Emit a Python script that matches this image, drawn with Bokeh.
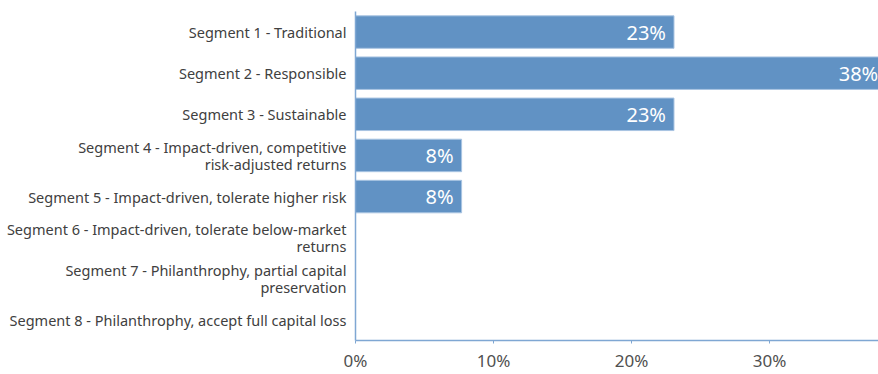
from bokeh.plotting import figure
from bokeh.models import Range1d, FactorRange, ColumnDataSource, FixedTicker
from bokeh.core.properties import value
from bokeh.embed import file_html
from bokeh.resources import INLINE

segments = [
    "Segment 1 - Traditional",
    "Segment 2 - Responsible",
    "Segment 3 - Sustainable",
    "Segment 4 - Impact-driven, competitive\nrisk-adjusted returns",
    "Segment 5 - Impact-driven, tolerate higher risk",
    "Segment 6 - Impact-driven, tolerate below-market\nreturns",
    "Segment 7 - Philanthrophy, partial capital\npreservation",
    "Segment 8 - Philanthrophy, accept full capital loss",
]
shares = [23.08, 38.46, 23.08, 7.69, 7.69, 0, 0, 0]
x_ticks = [0, 10, 20, 30]
x_tick_labels = ["0%", "10%", "20%", "30%"]

bar_color = "#6192c4"
axis_color = "#7fa7d3"
font = "Noto Sans"

src = ColumnDataSource(dict(
    seg=segments,
    v=shares,
    lab=[f"{round(s)}%" if s > 0 else "" for s in shares],
))

p = figure(
    width=878, height=374,
    y_range=FactorRange(*reversed(segments), range_padding=0),
    x_range=Range1d(0, 37.9),
    output_backend="svg", toolbar_location=None,
    min_border_left=355, min_border_right=0, min_border_top=11, min_border_bottom=28,
)
p.outline_line_color = None
p.xgrid.grid_line_color = None
p.ygrid.grid_line_color = None

p.hbar(y="seg", right="v", left=0, height=0.79, source=src,
       fill_color=bar_color, line_color="#a9c4e2", line_width=1)

p.text(x="v", y="seg", text="lab", source=src, x_offset=-8,
       text_align="right", text_baseline="middle", text_color="white",
       text_font=value(font), text_font_size="20px")

xa = p.xaxis[0]
xa.ticker = FixedTicker(ticks=x_ticks)
xa.major_label_overrides = {t: l for t, l in zip(x_ticks, x_tick_labels)}
xa.axis_line_color = axis_color
xa.axis_line_width = 1.5
xa.major_tick_line_color = axis_color
xa.major_tick_in = 0
xa.major_tick_out = 3
xa.minor_tick_line_color = None
xa.major_label_text_font = font
xa.major_label_text_font_size = "17px"
xa.major_label_text_color = "#505050"
xa.major_label_standoff = 5

ya = p.yaxis[0]
ya.axis_line_color = axis_color
ya.axis_line_width = 1.5
ya.major_tick_line_color = None
ya.minor_tick_line_color = None
ya.major_label_text_font = font
ya.major_label_text_font_size = "14.5px"
ya.major_label_text_line_height = 0.85
ya.major_label_text_color = "#404040"
ya.major_label_standoff = 3

open("out.html", "w").write(file_html(p, INLINE))
